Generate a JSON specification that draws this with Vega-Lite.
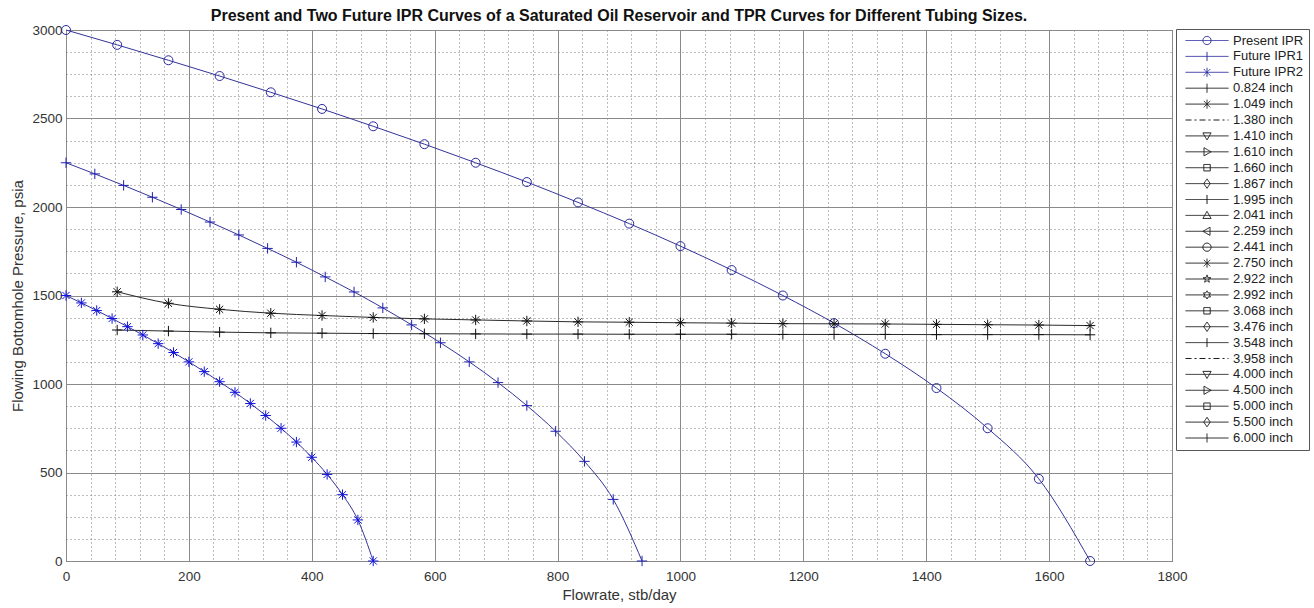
{
  "$schema": "https://vega.github.io/schema/vega-lite/v6.json",
  "width": 1106,
  "height": 531,
  "autosize": {"type": "none"},
  "padding": {"left": 66, "top": 30, "right": 142, "bottom": 47},
  "background": "white",
  "title": {
    "text": "Present and Two Future IPR Curves of a Saturated Oil Reservoir and TPR Curves for Different Tubing Sizes.",
    "font": "Liberation Sans",
    "fontSize": 16,
    "fontWeight": "bold",
    "color": "#111111",
    "anchor": "middle",
    "offset": 0,
    "dy": 1
  },
  "config": {
    "view": {"stroke": "#3a3a3a", "strokeWidth": 1},
    "font": "Liberation Sans"
  },
  "datasets": {
    "curves": [
      {"series": "Present IPR", "q": 0, "p": 3000},
      {"series": "Present IPR", "q": 83.3, "p": 2916},
      {"series": "Present IPR", "q": 166.7, "p": 2829},
      {"series": "Present IPR", "q": 250, "p": 2740},
      {"series": "Present IPR", "q": 333.3, "p": 2648},
      {"series": "Present IPR", "q": 416.7, "p": 2554},
      {"series": "Present IPR", "q": 500, "p": 2456},
      {"series": "Present IPR", "q": 583.3, "p": 2355},
      {"series": "Present IPR", "q": 666.7, "p": 2250},
      {"series": "Present IPR", "q": 750, "p": 2141},
      {"series": "Present IPR", "q": 833.3, "p": 2026},
      {"series": "Present IPR", "q": 916.7, "p": 1906},
      {"series": "Present IPR", "q": 1000, "p": 1779},
      {"series": "Present IPR", "q": 1083.3, "p": 1644},
      {"series": "Present IPR", "q": 1166.7, "p": 1500},
      {"series": "Present IPR", "q": 1250, "p": 1344},
      {"series": "Present IPR", "q": 1333.3, "p": 1171},
      {"series": "Present IPR", "q": 1416.7, "p": 977},
      {"series": "Present IPR", "q": 1500, "p": 750},
      {"series": "Present IPR", "q": 1583.3, "p": 464},
      {"series": "Present IPR", "q": 1666.7, "p": 0},
      {"series": "Future IPR1", "q": 0, "p": 2250},
      {"series": "Future IPR1", "q": 46.9, "p": 2187},
      {"series": "Future IPR1", "q": 93.8, "p": 2122},
      {"series": "Future IPR1", "q": 140.6, "p": 2055},
      {"series": "Future IPR1", "q": 187.5, "p": 1986},
      {"series": "Future IPR1", "q": 234.4, "p": 1915},
      {"series": "Future IPR1", "q": 281.3, "p": 1842},
      {"series": "Future IPR1", "q": 328.1, "p": 1766},
      {"series": "Future IPR1", "q": 375, "p": 1688},
      {"series": "Future IPR1", "q": 421.9, "p": 1605},
      {"series": "Future IPR1", "q": 468.8, "p": 1520},
      {"series": "Future IPR1", "q": 515.6, "p": 1430},
      {"series": "Future IPR1", "q": 562.5, "p": 1334},
      {"series": "Future IPR1", "q": 609.4, "p": 1233},
      {"series": "Future IPR1", "q": 656.3, "p": 1125},
      {"series": "Future IPR1", "q": 703.1, "p": 1008},
      {"series": "Future IPR1", "q": 750, "p": 878},
      {"series": "Future IPR1", "q": 796.9, "p": 733},
      {"series": "Future IPR1", "q": 843.8, "p": 563},
      {"series": "Future IPR1", "q": 890.6, "p": 348},
      {"series": "Future IPR1", "q": 937.5, "p": 0},
      {"series": "Future IPR2", "q": 0, "p": 1500},
      {"series": "Future IPR2", "q": 25, "p": 1458},
      {"series": "Future IPR2", "q": 50, "p": 1415},
      {"series": "Future IPR2", "q": 75, "p": 1370},
      {"series": "Future IPR2", "q": 100, "p": 1324},
      {"series": "Future IPR2", "q": 125, "p": 1277},
      {"series": "Future IPR2", "q": 150, "p": 1228},
      {"series": "Future IPR2", "q": 175, "p": 1178},
      {"series": "Future IPR2", "q": 200, "p": 1125},
      {"series": "Future IPR2", "q": 225, "p": 1070},
      {"series": "Future IPR2", "q": 250, "p": 1013},
      {"series": "Future IPR2", "q": 275, "p": 953},
      {"series": "Future IPR2", "q": 300, "p": 890},
      {"series": "Future IPR2", "q": 325, "p": 822},
      {"series": "Future IPR2", "q": 350, "p": 750},
      {"series": "Future IPR2", "q": 375, "p": 672},
      {"series": "Future IPR2", "q": 400, "p": 586},
      {"series": "Future IPR2", "q": 425, "p": 489},
      {"series": "Future IPR2", "q": 450, "p": 375},
      {"series": "Future IPR2", "q": 475, "p": 232},
      {"series": "Future IPR2", "q": 500, "p": 0},
      {"series": "0.824 inch", "q": 83.3, "p": 1305},
      {"series": "0.824 inch", "q": 166.7, "p": 1299},
      {"series": "0.824 inch", "q": 250, "p": 1293},
      {"series": "0.824 inch", "q": 333.3, "p": 1289},
      {"series": "0.824 inch", "q": 416.7, "p": 1287},
      {"series": "0.824 inch", "q": 500, "p": 1285},
      {"series": "0.824 inch", "q": 583.3, "p": 1284},
      {"series": "0.824 inch", "q": 666.7, "p": 1283},
      {"series": "0.824 inch", "q": 750, "p": 1282},
      {"series": "0.824 inch", "q": 833.3, "p": 1282},
      {"series": "0.824 inch", "q": 916.7, "p": 1281},
      {"series": "0.824 inch", "q": 1000, "p": 1281},
      {"series": "0.824 inch", "q": 1083.3, "p": 1281},
      {"series": "0.824 inch", "q": 1166.7, "p": 1280},
      {"series": "0.824 inch", "q": 1250, "p": 1280},
      {"series": "0.824 inch", "q": 1333.3, "p": 1280},
      {"series": "0.824 inch", "q": 1416.7, "p": 1279},
      {"series": "0.824 inch", "q": 1500, "p": 1279},
      {"series": "0.824 inch", "q": 1583.3, "p": 1279},
      {"series": "0.824 inch", "q": 1666.7, "p": 1278},
      {"series": "1.049 inch", "q": 83.3, "p": 1521},
      {"series": "1.049 inch", "q": 166.7, "p": 1456},
      {"series": "1.049 inch", "q": 250, "p": 1422},
      {"series": "1.049 inch", "q": 333.3, "p": 1400},
      {"series": "1.049 inch", "q": 416.7, "p": 1387},
      {"series": "1.049 inch", "q": 500, "p": 1376},
      {"series": "1.049 inch", "q": 583.3, "p": 1368},
      {"series": "1.049 inch", "q": 666.7, "p": 1362},
      {"series": "1.049 inch", "q": 750, "p": 1356},
      {"series": "1.049 inch", "q": 833.3, "p": 1351},
      {"series": "1.049 inch", "q": 916.7, "p": 1349},
      {"series": "1.049 inch", "q": 1000, "p": 1346},
      {"series": "1.049 inch", "q": 1083.3, "p": 1344},
      {"series": "1.049 inch", "q": 1166.7, "p": 1341},
      {"series": "1.049 inch", "q": 1250, "p": 1340},
      {"series": "1.049 inch", "q": 1333.3, "p": 1339},
      {"series": "1.049 inch", "q": 1416.7, "p": 1337},
      {"series": "1.049 inch", "q": 1500, "p": 1335},
      {"series": "1.049 inch", "q": 1583.3, "p": 1333},
      {"series": "1.049 inch", "q": 1666.7, "p": 1330}
    ],
    "legendEntries": [
      {"series": "Present IPR"}, {"series": "Future IPR1"}, {"series": "Future IPR2"},
      {"series": "0.824 inch"}, {"series": "1.049 inch"}, {"series": "1.380 inch"},
      {"series": "1.410 inch"}, {"series": "1.610 inch"}, {"series": "1.660 inch"},
      {"series": "1.867 inch"}, {"series": "1.995 inch"}, {"series": "2.041 inch"},
      {"series": "2.259 inch"}, {"series": "2.441 inch"}, {"series": "2.750 inch"},
      {"series": "2.922 inch"}, {"series": "2.992 inch"}, {"series": "3.068 inch"},
      {"series": "3.476 inch"}, {"series": "3.548 inch"}, {"series": "3.958 inch"},
      {"series": "4.000 inch"}, {"series": "4.500 inch"}, {"series": "5.000 inch"},
      {"series": "5.500 inch"}, {"series": "6.000 inch"}
    ]
  },
  "layer": [
    {
      "data": {"name": "curves"},
      "mark": {"type": "line", "strokeWidth": 1, "interpolate": "monotone"},
      "encoding": {
        "x": {
          "field": "q", "type": "quantitative",
          "scale": {"domain": [0, 1800], "nice": false, "zero": false},
          "axis": {
            "title": "Flowrate, stb/day",
            "values": [0,40,80,120,160,200,240,280,320,360,400,440,480,520,560,600,640,680,720,760,800,840,880,920,960,1000,1040,1080,1120,1160,1200,1240,1280,1320,1360,1400,1440,1480,1520,1560,1600,1640,1680,1720,1760,1800],
            "tickCount": 200,
            "format": "d",
            "labelExpr": "datum.value % 200 === 0 ? datum.label : ''",
            "grid": true,
            "gridColor": {"condition": {"test": "datum.value % 200 === 0", "value": "#8a8a8a"}, "value": "#7a7a7a"},
            "gridDash": {"condition": {"test": "datum.value % 200 === 0", "value": []}, "value": [1, 3]},
            "gridOpacity": 1,
            "gridWidth": 1,
            "ticks": false,
            "tickSize": 0,
            "domain": false,
            "labelFlush": false,
            "labelOverlap": false,
            "labelPadding": 8,
            "labelFont": "Liberation Sans",
            "labelFontSize": 13.5,
            "labelColor": "#333333",
            "titleFont": "Liberation Sans",
            "titleFontSize": 15,
            "titleFontWeight": "normal",
            "titleColor": "#333333",
            "titlePadding": 5
          }
        },
        "y": {
          "field": "p", "type": "quantitative",
          "scale": {"domain": [0, 3000], "nice": false, "zero": false},
          "axis": {
            "title": "Flowing Bottomhole Pressure, psia",
            "values": [0,125,250,375,500,625,750,875,1000,1125,1250,1375,1500,1625,1750,1875,2000,2125,2250,2375,2500,2625,2750,2875,3000],
            "tickCount": 200,
            "format": "d",
            "labelExpr": "datum.value % 500 === 0 ? datum.label : ''",
            "grid": true,
            "gridColor": {"condition": {"test": "datum.value % 500 === 0", "value": "#8a8a8a"}, "value": "#7a7a7a"},
            "gridDash": {"condition": {"test": "datum.value % 500 === 0", "value": []}, "value": [1, 3]},
            "gridOpacity": 1,
            "gridWidth": 1,
            "ticks": false,
            "tickSize": 0,
            "domain": false,
            "labelFlush": false,
            "labelOverlap": false,
            "labelPadding": 4,
            "labelFont": "Liberation Sans",
            "labelFontSize": 13.5,
            "labelColor": "#333333",
            "titleFont": "Liberation Sans",
            "titleFontSize": 15,
            "titleFontWeight": "normal",
            "titleColor": "#333333",
            "titlePadding": 6
          }
        },
        "color": {
          "field": "series", "type": "nominal", "legend": null,
          "scale": {
            "domain": ["Present IPR", "Future IPR1", "Future IPR2", "0.824 inch", "1.049 inch"],
            "range": ["#34349a", "#34349a", "#34349a", "#2a2a2a", "#2a2a2a"]
          }
        }
      }
    },
    {
      "data": {"name": "curves"},
      "mark": {"type": "point", "filled": false, "size": 81, "strokeWidth": 1, "opacity": 1},
      "encoding": {
        "x": {"field": "q", "type": "quantitative"},
        "y": {"field": "p", "type": "quantitative"},
        "color": {
          "field": "series", "type": "nominal", "legend": null,
          "scale": {
            "domain": ["Present IPR", "Future IPR1", "Future IPR2", "0.824 inch", "1.049 inch"],
            "range": ["#2a2aa0", "#2020b0", "#1414dd", "#111111", "#111111"]
          }
        },
        "shape": {
          "field": "series", "type": "nominal", "legend": null,
          "scale": {
            "domain": ["Present IPR", "Future IPR1", "Future IPR2", "0.824 inch", "1.049 inch"],
            "range": [
              "M-1,0A1,1 0 1,1 1,0A1,1 0 1,1 -1,0",
              "M-1.15,0H1.15M0,-1.15V1.15",
              "M-1.15,0H1.15M0,-1.15V1.15M-0.8,-0.8L0.8,0.8M-0.8,0.8L0.8,-0.8",
              "M-1.15,0H1.15M0,-1.15V1.15",
              "M-1.15,0H1.15M0,-1.15V1.15M-0.8,-0.8L0.8,0.8M-0.8,0.8L0.8,-0.8"
            ]
          }
        }
      }
    },
    {
      "data": {"name": "legendEntries"},
      "mark": {"type": "point", "filled": false, "opacity": 0},
      "encoding": {
        "color": {
          "field": "series", "type": "nominal",
          "scale": {
            "domain": ["Present IPR","Future IPR1","Future IPR2","0.824 inch","1.049 inch","1.380 inch","1.410 inch","1.610 inch","1.660 inch","1.867 inch","1.995 inch","2.041 inch","2.259 inch","2.441 inch","2.750 inch","2.922 inch","2.992 inch","3.068 inch","3.476 inch","3.548 inch","3.958 inch","4.000 inch","4.500 inch","5.000 inch","5.500 inch","6.000 inch"],
            "range": ["#2a2aa0","#2a2aa0","#2a2aa0","#1a1a1a","#1a1a1a","#1a1a1a","#1a1a1a","#1a1a1a","#1a1a1a","#1a1a1a","#1a1a1a","#1a1a1a","#1a1a1a","#1a1a1a","#1a1a1a","#1a1a1a","#1a1a1a","#1a1a1a","#1a1a1a","#1a1a1a","#1a1a1a","#1a1a1a","#1a1a1a","#1a1a1a","#1a1a1a","#1a1a1a"]
          },
          "legend": {
            "title": null,
            "orient": "none",
            "legendX": 1110,
            "legendY": -1,
            "direction": "vertical",
            "columns": 1,
            "symbolLimit": 0,
            "symbolSize": 1849,
            "symbolStrokeWidth": 1,
            "symbolOpacity": 1,
            "symbolOffset": 4,
            "labelOffset": 4,
            "labelFont": "Liberation Sans",
            "labelFontSize": 13,
            "labelColor": "#222222",
            "labelLimit": 200,
            "clipHeight": 13,
            "rowPadding": 1.9,
            "padding": 5,
            "strokeColor": "#555555",
            "fillColor": "white",
            "cornerRadius": 0
          }
        },
        "shape": {
          "field": "series", "type": "nominal",
          "scale": {
            "domain": ["Present IPR","Future IPR1","Future IPR2","0.824 inch","1.049 inch","1.380 inch","1.410 inch","1.610 inch","1.660 inch","1.867 inch","1.995 inch","2.041 inch","2.259 inch","2.441 inch","2.750 inch","2.922 inch","2.992 inch","3.068 inch","3.476 inch","3.548 inch","3.958 inch","4.000 inch","4.500 inch","5.000 inch","5.500 inch","6.000 inch"],
            "range": [
              "M-1,0H1M-0.19,0A0.19,0.19 0 1,1 0.19,0A0.19,0.19 0 1,1 -0.19,0",
              "M-1,0H1M0,-0.21V0.21",
              "M-1,0H1M0,-0.21V0.21M-0.15,-0.15L0.15,0.15M-0.15,0.15L0.15,-0.15",
              "M-1,0H1M0,-0.21V0.21",
              "M-1,0H1M0,-0.21V0.21M-0.15,-0.15L0.15,0.15M-0.15,0.15L0.15,-0.15",
              "M-1,0H1",
              "M-1,0H1M-0.19,-0.14L0.19,-0.14L0,0.19Z",
              "M-1,0H1M-0.14,-0.19L0.19,0L-0.14,0.19Z",
              "M-1,0H1M-0.15,-0.15H0.15V0.15H-0.15Z",
              "M-1,0H1M0,-0.22L0.15,0L0,0.22L-0.15,0Z",
              "M-1,0H1M0,-0.21V0.21",
              "M-1,0H1M-0.19,0.14L0.19,0.14L0,-0.19Z",
              "M-1,0H1M0.14,-0.19L-0.19,0L0.14,0.19Z",
              "M-1,0H1M-0.19,0A0.19,0.19 0 1,1 0.19,0A0.19,0.19 0 1,1 -0.19,0",
              "M-1,0H1M0,-0.21V0.21M-0.15,-0.15L0.15,0.15M-0.15,0.15L0.15,-0.15",
              "M-1,0H1M0,-0.19L0.045,-0.061L0.18,-0.057L0.072,0.023L0.11,0.15L0,0.076L-0.11,0.15L-0.072,0.023L-0.18,-0.057L-0.045,-0.061Z",
              "M-1,0H1M0,-0.19L0.054,-0.093L0.161,-0.093L0.107,0L0.161,0.093L0.054,0.093L0,0.19L-0.054,0.093L-0.161,0.093L-0.107,0L-0.161,-0.093L-0.054,-0.093Z",
              "M-1,0H1M-0.15,-0.15H0.15V0.15H-0.15Z",
              "M-1,0H1M0,-0.22L0.15,0L0,0.22L-0.15,0Z",
              "M-1,0H1M0,-0.21V0.21",
              "M-1,0H1",
              "M-1,0H1M-0.19,-0.14L0.19,-0.14L0,0.19Z",
              "M-1,0H1M-0.14,-0.19L0.19,0L-0.14,0.19Z",
              "M-1,0H1M-0.15,-0.15H0.15V0.15H-0.15Z",
              "M-1,0H1M0,-0.22L0.15,0L0,0.22L-0.15,0Z",
              "M-1,0H1M0,-0.21V0.21"
            ]
          }
        },
        "strokeDash": {
          "field": "series", "type": "nominal",
          "scale": {
            "domain": ["Present IPR","Future IPR1","Future IPR2","0.824 inch","1.049 inch","1.380 inch","1.410 inch","1.610 inch","1.660 inch","1.867 inch","1.995 inch","2.041 inch","2.259 inch","2.441 inch","2.750 inch","2.922 inch","2.992 inch","3.068 inch","3.476 inch","3.548 inch","3.958 inch","4.000 inch","4.500 inch","5.000 inch","5.500 inch","6.000 inch"],
            "range": [[1,0],[1,0],[1,0],[1,0],[1,0],[6,3,2,3],[1,0],[1,0],[1,0],[1,0],[1,0],[1,0],[1,0],[1,0],[1,0],[1,0],[1,0],[1,0],[1,0],[1,0],[6,3,2,3],[1,0],[1,0],[1,0],[1,0],[1,0]]
          }
        }
      }
    }
  ],
  "resolve": {"scale": {"color": "independent", "shape": "independent", "strokeDash": "independent"}}
}
